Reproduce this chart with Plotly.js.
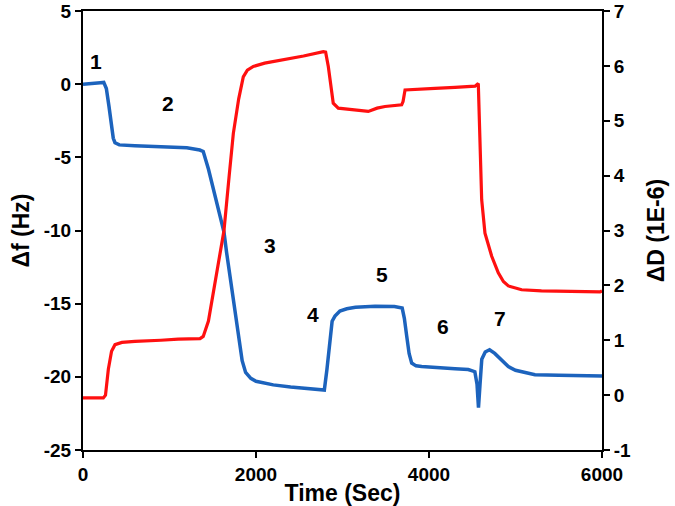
<!DOCTYPE html>
<html>
<head>
<meta charset="utf-8">
<script src="https://cdn.plot.ly/plotly-3.0.1.min.js"></script>
<style>html,body{margin:0;padding:0;background:#fff;}#chart{width:675px;height:506px;}</style>
</head>
<body>
<div id="chart"></div>
<script>
// Δf (Hz) – blue, left axis
const timeF = [0,100,200,240,270,300,330,350,370,420,600,800,1000,1200,1350,1390,1450,1500,1560,1630,1660,1720,1780,1840,1880,1940,2000,2200,2400,2600,2740,2790,2820,2855,2880,2913,2970,3050,3150,3376,3600,3690,3715,3742,3770,3800,3850,3915,4100,4300,4454,4530,4555,4572,4590,4610,4650,4700,4760,4840,4917,5000,5100,5225,5500,5800,6000];
const deltaF = [0,0.02,0.1,0.12,-0.3,-1.5,-3.0,-3.7,-4.0,-4.15,-4.2,-4.25,-4.3,-4.35,-4.5,-4.6,-5.8,-7.0,-8.4,-10.1,-11.5,-14.0,-16.8,-18.9,-19.7,-20.1,-20.3,-20.55,-20.7,-20.8,-20.85,-20.9,-19.5,-17.2,-16.2,-15.85,-15.5,-15.35,-15.25,-15.18,-15.2,-15.3,-16.0,-17.2,-18.4,-19.06,-19.25,-19.3,-19.4,-19.45,-19.5,-19.65,-20.5,-22.1,-20.5,-18.8,-18.3,-18.15,-18.4,-18.9,-19.3,-19.55,-19.7,-19.86,-19.9,-19.95,-19.95];

// ΔD (1E-6) – red, right axis
const timeD = [0,100,235,260,293,330,370,450,600,900,1100,1353,1390,1450,1520,1580,1630,1690,1738,1800,1853,1900,1969,2100,2316,2550,2778,2805,2836,2865,2893,2951,3100,3298,3400,3491,3684,3700,3723,3900,4069,4300,4532,4570,4590,4609,4647,4690,4725,4801,4860,4917,5071,5300,5610,5977,6000];
const deltaD = [-0.05,-0.05,-0.05,0.0,0.47,0.8,0.92,0.96,0.98,1.0,1.02,1.03,1.07,1.35,2.0,2.55,3.0,4.0,4.77,5.4,5.8,5.92,5.99,6.05,6.11,6.18,6.26,6.25,5.99,5.6,5.32,5.23,5.2,5.17,5.23,5.26,5.29,5.35,5.56,5.57,5.59,5.61,5.63,5.68,4.77,3.56,2.95,2.7,2.53,2.23,2.07,1.99,1.92,1.9,1.89,1.88,1.9];

// stage labels
const stageText = ['1','2','3','4','5','6','7'];
const stageTime = [148,983,2162,2662,3453,4165,4821];
const stageF = [1.53,-1.31,-11.0,-15.76,-13.02,-16.55,-15.98];

const FONT = 'Arial, "Liberation Sans", sans-serif';

const traces = [
  {x: timeD, y: deltaD, yaxis: 'y2', type: 'scatter', mode: 'lines', line: {color: '#ff1010', width: 3.2}, hoverinfo: 'skip', showlegend: false},
  {x: timeF, y: deltaF, yaxis: 'y', type: 'scatter', mode: 'lines', line: {color: '#1c63bd', width: 3.5}, hoverinfo: 'skip', showlegend: false}
];

const annotations = stageText.map((t, i) => ({
  x: stageTime[i], y: stageF[i], xref: 'x', yref: 'y', text: t, showarrow: false,
  font: {family: FONT, size: 21, color: '#000', weight: 'bold'}, xanchor: 'center', yanchor: 'middle'
}));

const tickFont = {family: FONT, size: 19, color: '#000', weight: 'bold'};
const titleFont = {family: FONT, size: 23, color: '#000', weight: 'bold'};

const layout = {
  width: 675, height: 506,
  margin: {l: 83, r: 73, t: 11, b: 56},
  paper_bgcolor: '#fff', plot_bgcolor: '#fff',
  font: {family: FONT, color: '#000'},
  xaxis: {
    range: [0, 6000], tickvals: [0, 2000, 4000, 6000], ticktext: ['0','2000','4000','6000'],
    ticks: 'outside', ticklen: 6, tickwidth: 2, tickcolor: '#000',
    showline: true, linewidth: 2, linecolor: '#000', mirror: true,
    showgrid: false, zeroline: false, tickfont: tickFont,
    title: {text: 'Time (Sec)', font: titleFont, standoff: 2}
  },
  yaxis: {
    range: [-25, 5], tickvals: [-25,-20,-15,-10,-5,0,5], ticktext: ['-25','-20','-15','-10','-5','0','5'],
    ticks: 'outside', ticklen: 6, tickwidth: 2, tickcolor: '#000',
    showline: true, linewidth: 2, linecolor: '#000',
    showgrid: false, zeroline: false, tickfont: tickFont,
    title: {text: 'Δf (Hz)', font: titleFont, standoff: 8}
  },
  yaxis2: {
    range: [-1, 7], tickvals: [-1,0,1,2,3,4,5,6,7], ticktext: ['-1','0','1','2','3','4','5','6','7'],
    overlaying: 'y', side: 'right',
    ticks: 'outside', ticklen: 6, tickwidth: 2, tickcolor: '#000',
    showline: true, linewidth: 2, linecolor: '#000',
    showgrid: false, zeroline: false, tickfont: tickFont,
    title: {text: 'ΔD (1E-6)', font: titleFont, standoff: 18}
  },
  annotations: annotations
};

Plotly.newPlot('chart', traces, layout, {staticPlot: true, displayModeBar: false});
</script>
</body>
</html>
